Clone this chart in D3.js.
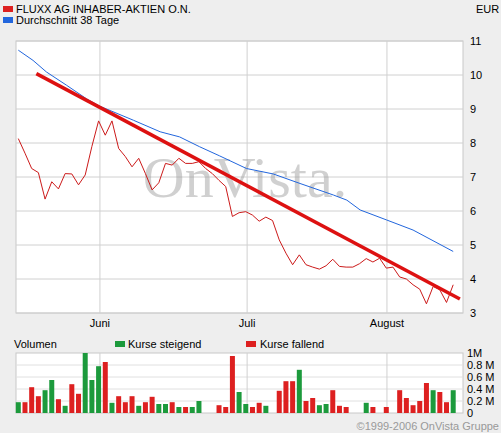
<!DOCTYPE html><html><head><meta charset="utf-8"><script src="https://d3js.org/d3.v7.min.js"></script>
<style>body{margin:0;background:#eeeeee}svg{font-family:Arial,"Liberation Sans",sans-serif}</style></head><body>
<script>
const price=[8.13,7.7,7.25,7.13,6.35,6.86,6.65,7.1,7.09,6.77,7.06,7.9,8.65,8.23,8.65,7.84,7.6,7.3,7.55,7.1,6.62,6.83,7.4,7.35,7.55,7.4,7.4,7.45,7.25,7.1,6.9,6.72,5.84,5.95,5.98,5.88,5.7,5.82,5.72,5.15,4.76,4.42,4.71,4.42,4.35,4.29,4.39,4.58,4.37,4.35,4.35,4.45,4.6,4.5,4.61,4.32,4.35,4.06,4.0,3.83,3.7,3.27,3.78,3.68,3.31,3.83];
const maIdx=[0,2.2,4.2,7.2,10.2,12.2,17.2,21.2,24.1,27.1,30.1,34.1,38.1,42.1,47.1,49.1,51.1,55,59,65];
const maVal=[10.73,10.43,10.09,9.7,9.3,9.08,8.67,8.33,8.18,7.89,7.62,7.25,7.09,6.81,6.47,6.32,6.03,5.74,5.44,4.81];
const trendIdx=[2.7,66];
const trendVal=[10.04,3.41];
const volume=[0.18,0.18,0.43,0.28,0.38,0.55,0.23,0.12,0.48,0.32,1.0,0.55,0.78,0.85,0.17,0.28,0.18,0.28,0.12,0.18,0.27,0.15,0.15,0.18,0.1,0.1,0.1,0.2,0,0,0.13,0.1,0.95,0.35,0.15,0.1,0.17,0.12,0,0.37,0.53,0.53,0.72,0.2,0.25,0.13,0.15,0.38,0.12,0.1,0,0,0.17,0.1,0,0.1,0,0.38,0.25,0.13,0.2,0.5,0.38,0.35,0.18,0.38];
const volUp="10001101001110100010011010110000011001000010011000001000000000100101".split("").map(Number);
const monthLabels=["Juni","Juli","August"];
const monthIdx=[12.2,34.2,55.1];
const yTicks=[3,4,5,6,7,8,9,10,11];
const vTicks=[0,0.2,0.4,0.6,0.8,1];
const vTickLabels=["0","0.2 M","0.4 M","0.6 M","0.8 M","1M"];

const W=501,H=433;
const svg=d3.select("body").append("svg").attr("width",W).attr("height",H);
const x=d3.scaleLinear().domain([0,65]).range([18.3,453.2]);
const y=d3.scaleLinear().domain([3,11]).range([313,41]);
const yv=d3.scaleLinear().domain([0,1]).range([413,353]);
const L=16,R=463;
const RED="#dd2020",GREEN="#1c9a3c",BLUE="#2266dd";

// legend
svg.append("rect").attr("x",3).attr("y",6).attr("width",10).attr("height",6).attr("fill",RED);
svg.append("text").attr("x",16).attr("y",13).attr("font-size",11).text("FLUXX AG INHABER-AKTIEN O.N.");
svg.append("text").attr("x",476).attr("y",13).attr("font-size",11).text("EUR");
svg.append("rect").attr("x",3).attr("y",17).attr("width",10).attr("height",6).attr("fill",BLUE);
svg.append("text").attr("x",16).attr("y",24).attr("font-size",11).text("Durchschnitt 38 Tage");

// main plot
svg.append("rect").attr("x",L).attr("y",41).attr("width",R-L).attr("height",272).attr("fill","#fff").attr("stroke","#c8c8c8");
svg.append("g").selectAll("line").data(yTicks).join("line").attr("x1",L).attr("x2",R).attr("y1",d=>y(d)).attr("y2",d=>y(d)).attr("stroke","#d0d0d0");
svg.append("g").selectAll("line").data(monthIdx).join("line").attr("x1",d=>x(d)).attr("x2",d=>x(d)).attr("y1",41).attr("y2",313).attr("stroke","#d0d0d0");
svg.append("text").attr("x",245).attr("y",197).attr("text-anchor","middle").attr("font-family","Liberation Serif,serif").attr("font-size",58).attr("fill","#999").attr("opacity",0.45).text("OnVista.");
svg.append("g").selectAll("text").data(yTicks).join("text").attr("x",470).attr("y",d=>y(d)+4).attr("font-size",11).text(d=>d);
svg.append("g").selectAll("text").data(monthIdx).join("text").attr("x",d=>x(d)).attr("y",327).attr("text-anchor","middle").attr("font-size",11).text((d,i)=>monthLabels[i]);

const line=d3.line();
svg.append("path").attr("d",line(maIdx.map((d,i)=>[x(d),y(maVal[i])]))).attr("fill","none").attr("stroke",BLUE).attr("stroke-width",1);
svg.append("path").attr("d",line(price.map((d,i)=>[x(i),y(d)]))).attr("fill","none").attr("stroke","#cc1a1a").attr("stroke-width",1);
svg.append("path").attr("d",line(trendIdx.map((d,i)=>[x(d),y(trendVal[i])]))).attr("fill","none").attr("stroke","#dd1111").attr("stroke-width",3.5);

// volume
svg.append("text").attr("x",14).attr("y",348).attr("font-size",11).text("Volumen");
svg.append("rect").attr("x",115).attr("y",341).attr("width",10).attr("height",6).attr("fill",GREEN);
svg.append("text").attr("x",128).attr("y",348).attr("font-size",11).text("Kurse steigend");
svg.append("rect").attr("x",246).attr("y",341).attr("width",10).attr("height",6).attr("fill",RED);
svg.append("text").attr("x",260).attr("y",348).attr("font-size",11).text("Kurse fallend");
svg.append("rect").attr("x",L).attr("y",353).attr("width",R-L).attr("height",60).attr("fill","#fff").attr("stroke","#c8c8c8");
svg.append("g").selectAll("line").data(vTicks.slice(1,5)).join("line").attr("x1",L).attr("x2",R).attr("y1",d=>yv(d)).attr("y2",d=>yv(d)).attr("stroke","#e0e0e0");
svg.append("g").selectAll("line").data(monthIdx).join("line").attr("x1",d=>x(d)).attr("x2",d=>x(d)).attr("y1",353).attr("y2",413).attr("stroke","#d0d0d0");
svg.append("g").selectAll("rect").data(volume).join("rect").attr("x",(d,i)=>x(i)-2.5).attr("width",5).attr("y",d=>yv(d)).attr("height",d=>yv(0)-yv(d)).attr("fill",(d,i)=>volUp[i]?GREEN:RED);
svg.append("g").selectAll("text").data(vTicks).join("text").attr("x",467).attr("y",d=>yv(d)+4).attr("font-size",11).text((d,i)=>vTickLabels[i]);
svg.append("text").attr("x",499).attr("y",430).attr("text-anchor","end").attr("font-size",11).attr("fill","#999").text("©1999-2006 OnVista Gruppe");
</script></body></html>
